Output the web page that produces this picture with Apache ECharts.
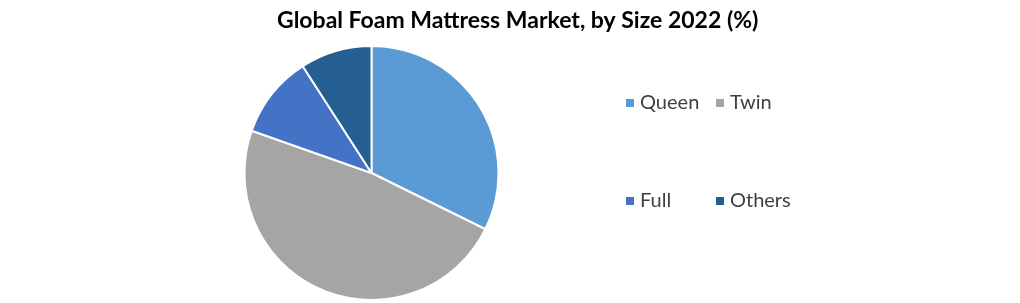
<!DOCTYPE html>
<html><head><meta charset="utf-8">
<script src="https://cdn.jsdelivr.net/npm/echarts@6/dist/echarts.min.js"></script>
<style>html,body{margin:0;padding:0;background:#fff}#c{width:1020px;height:303px}</style>
</head><body><div id="c"></div>
<script>
const categories = ['Queen', 'Twin', 'Full', 'Others'];
const values = [32.3, 48.1, 10.5, 9.1];
const colors = ['#5B9BD5', '#A5A5A5', '#4472C4', '#255E91'];
const titleText = 'Global Foam Mattress Market, by Size 2022 (%)';

const chart = echarts.init(document.getElementById('c'));
const legendText = { fontFamily: 'Lato', fontSize: 20, color: '#404040' };
chart.setOption({
  animation: false,
  title: { text: titleText, left: 272, top: 4,
    textStyle: { fontFamily: 'Lato', fontWeight: 'bold', fontSize: 23, color: '#000' } },
  color: colors,
  legend: [
    { data: [categories[0], categories[2]], orient: 'vertical', left: 619, top: 88,
      itemWidth: 10, itemHeight: 10, itemGap: 78, icon: 'rect', textStyle: legendText },
    { data: [categories[1], categories[3]], orient: 'vertical', left: 709, top: 88,
      itemWidth: 10, itemHeight: 10, itemGap: 78, icon: 'rect', textStyle: legendText }
  ],
  series: [{
    type: 'pie', center: [371.5, 173], radius: 127, startAngle: 90,
    label: { show: false }, labelLine: { show: false },
    itemStyle: { borderColor: '#fff', borderWidth: 2 },
    data: categories.map((n, i) => ({ name: n, value: values[i] }))
  }]
});
</script></body></html>
